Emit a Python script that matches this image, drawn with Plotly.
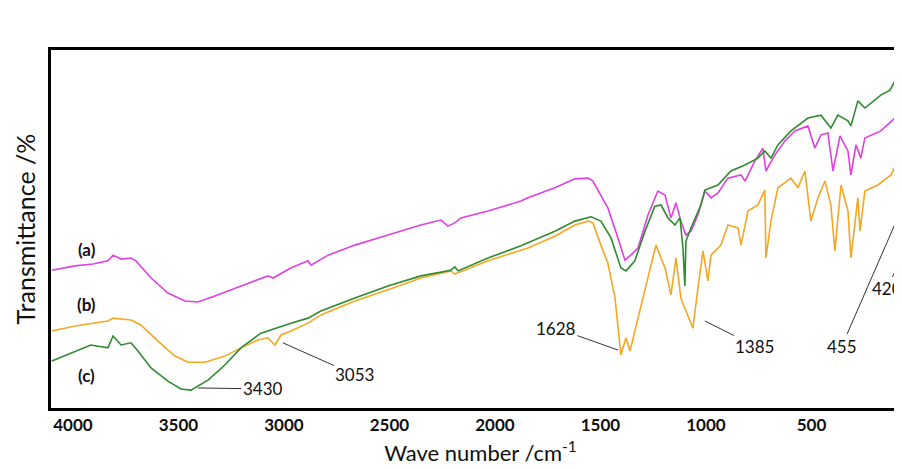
import plotly.graph_objects as go

# (a) magenta spectrum (wavenumber as read against the printed axis, transmittance in arbitrary %)
wn_a = [4100, 3990, 3905, 3834, 3810, 3772, 3725, 3701, 3630, 3550, 3469, 3408, 3327, 3204, 3076, 3052,
        2967, 2886, 2872, 2791, 2664, 2507, 2351, 2256, 2223, 2190, 2161, 2033, 1877, 1844, 1716, 1621,
        1559, 1536, 1498, 1465, 1417, 1384, 1356, 1322, 1275, 1228, 1194, 1166, 1142, 1119, 1095, 1071,
        1038, 1005, 976, 943, 896, 834, 815, 768, 730, 716, 673, 626, 578, 517, 484, 455, 422,
        398, 365, 327, 313, 289, 266, 247, 171, 104, 76, 52, 33]
t_a = [38.5, 39.7, 40.2, 41.1, 42.7, 41.6, 41.9, 41.1, 36.3, 32.1, 29.9, 29.6, 31.3, 34.1, 36.9, 36.3,
       39.1, 41.1, 39.9, 42.7, 45.5, 48.3, 51.1, 52.5, 50.8, 51.7, 53.1, 55.0, 57.8, 58.7, 61.5, 64.0,
       64.2, 63.4, 59.5, 55.9, 47.5, 41.3, 42.7, 44.7, 53.9, 60.6, 59.5, 53.1, 57.3, 52.2, 48.3, 49.4,
       53.9, 60.6, 58.7, 60.1, 64.2, 65.1, 63.4, 69.0, 72.6, 66.2, 70.7, 74.6, 77.4, 78.8, 72.6, 76.3, 76.8,
       66.2, 76.0, 71.8, 65.1, 73.5, 69.8, 75.4, 77.4, 81.0, 83.2, 80.2, 76.3]

# (b) orange spectrum
wn_b = [4100, 3990, 3834, 3810, 3725, 3678, 3597, 3517, 3455, 3374, 3280, 3204, 3123, 3076, 3043, 3014,
        2967, 2886, 2825, 2664, 2507, 2351, 2209, 2190, 2033, 1877, 1844, 1716, 1687, 1621, 1559, 1536,
        1498, 1465, 1431, 1403, 1379, 1360, 1322, 1275, 1237, 1194, 1166, 1142, 1119, 1095, 1062, 1038,
        1014, 991, 976, 929, 896, 848, 834, 801, 754, 721, 716, 692, 659, 597, 564, 531, 503,
        469, 436, 408, 389, 360, 327, 313, 280, 270, 247, 185, 123, 76, 57, 43, 33]
t_b = [21.5, 22.9, 24.3, 25.1, 24.6, 23.2, 18.7, 14.5, 12.8, 12.8, 14.5, 16.8, 19.0, 19.6, 17.6, 20.4,
       21.5, 23.7, 26.0, 29.9, 33.0, 36.3, 38.3, 37.4, 41.1, 43.9, 44.7, 48.0, 48.9, 51.1, 52.2, 51.7,
       45.5, 40.5, 30.7, 14.8, 19.6, 15.9, 25.1, 36.3, 45.5, 39.1, 31.6, 41.9, 30.7, 27.1, 22.3, 33.5,
       43.9, 35.5, 42.7, 45.5, 51.1, 50.3, 45.5, 55.0, 56.7, 60.9, 41.9, 52.2, 61.5, 64.2, 61.5, 66.2, 52.2,
       58.7, 63.4, 56.7, 43.9, 62.3, 55.0, 41.9, 58.7, 49.4, 60.6, 62.3, 65.1, 70.7, 69.8, 55.0, 53.9]

# (c) green spectrum
wn_c = [4100, 3990, 3915, 3834, 3810, 3772, 3725, 3692, 3630, 3550, 3488, 3441, 3360, 3280, 3204, 3109,
        3043, 2967, 2886, 2825, 2664, 2507, 2351, 2209, 2190, 2175, 2033, 1877, 1716, 1621, 1545, 1498,
        1450, 1403, 1379, 1337, 1289, 1242, 1213, 1180, 1147, 1123, 1109, 1100, 1095, 1071, 1024, 1005,
        943, 882, 815, 754, 721, 692, 659, 597, 517, 455, 408, 375, 327, 313, 280, 247, 171, 128,
        57, 33]
t_c = [13.1, 15.9, 17.6, 16.8, 20.1, 17.6, 18.2, 15.9, 11.2, 7.5, 5.3, 5.0, 7.8, 12.0, 16.8, 20.9,
       22.3, 23.7, 25.1, 27.1, 30.7, 34.1, 36.9, 38.5, 39.4, 38.3, 41.9, 45.3, 49.4, 52.2, 53.4, 52.2,
       47.5, 39.1, 38.3, 41.1, 49.4, 56.4, 56.7, 53.1, 51.1, 53.1, 44.7, 34.1, 46.6, 50.3, 56.7, 60.9,
       62.3, 66.2, 67.9, 69.8, 71.8, 69.8, 73.5, 77.4, 81.0, 81.8, 78.2, 81.8, 80.2, 78.8, 85.8, 83.8, 87.4, 88.8,
       96.4, 94.4]

series_labels = ["(a)", "(b)", "(c)"]
label_x = [3934, 3934, 3934]
label_y = [44.4, 28.8, 9.2]

tick_vals = [4000, 3500, 3000, 2500, 2000, 1500, 1000, 500]
tick_text = ["4000", "3500", "3000", "2500", "2000", "1500", "1000", "500"]

# peak annotations: text, anchor wavenumber, anchor transmittance, text offset (px)
peak_text = ["3430", "3053", "1628", "1385", "455", "420"]
peak_wn = [3408, 3005, 1417, 1005, 67, 36]
peak_t = [5.6, 18.2, 16.2, 24.3, 56.4, 47.5]
peak_ax = [65, 72, -62, 50, -61, -22]
peak_ay = [1, 32, -22, 25, 140, 51]

fig = go.Figure()
fig.add_trace(go.Scatter(x=wn_a, y=t_a, mode="lines", line=dict(color="#E040E0", width=1.6), showlegend=False))
fig.add_trace(go.Scatter(x=wn_b, y=t_b, mode="lines", line=dict(color="#F5A623", width=1.6), showlegend=False))
fig.add_trace(go.Scatter(x=wn_c, y=t_c, mode="lines", line=dict(color="#2E8B2E", width=1.6), showlegend=False))

for txt, xx, yy in zip(series_labels, label_x, label_y):
    fig.add_annotation(x=xx, y=yy, text="<b>" + txt + "</b>", showarrow=False,
                       font=dict(family="Lato", size=17, color="#111"))

for txt, xx, yy, ax, ay in zip(peak_text, peak_wn, peak_t, peak_ax, peak_ay):
    fig.add_annotation(x=xx, y=yy, text=txt, showarrow=True, arrowhead=0, arrowwidth=1,
                       arrowcolor="#333", ax=ax, ay=ay, standoff=0,
                       font=dict(family="Lato", size=17, color="#111"))

fig.update_layout(
    width=902, height=469,
    margin=dict(l=43, r=0, t=42, b=69),
    plot_bgcolor="white", paper_bgcolor="white",
    xaxis=dict(range=[4104, 33], tickvals=tick_vals, ticktext=tick_text,
               showline=True, linecolor="black", linewidth=2.5, mirror=True,
               showgrid=False, zeroline=False, ticks="",
               tickfont=dict(family="Lato", size=17, color="#111", weight="bold"),
               title=dict(text="Wave number /cm<sup>-1</sup>", standoff=12,
                          font=dict(family="Lato", size=22, color="#111")),
               automargin=False),
    yaxis=dict(range=[0, 100], showline=True, linecolor="black", linewidth=2.5,
               showgrid=False, zeroline=False, ticks="", showticklabels=False,
               title=dict(text="Transmittance /%", standoff=6,
                          font=dict(family="Lato", size=25, color="#111")),
               automargin=False),
)

fig.write_html("out.html")
